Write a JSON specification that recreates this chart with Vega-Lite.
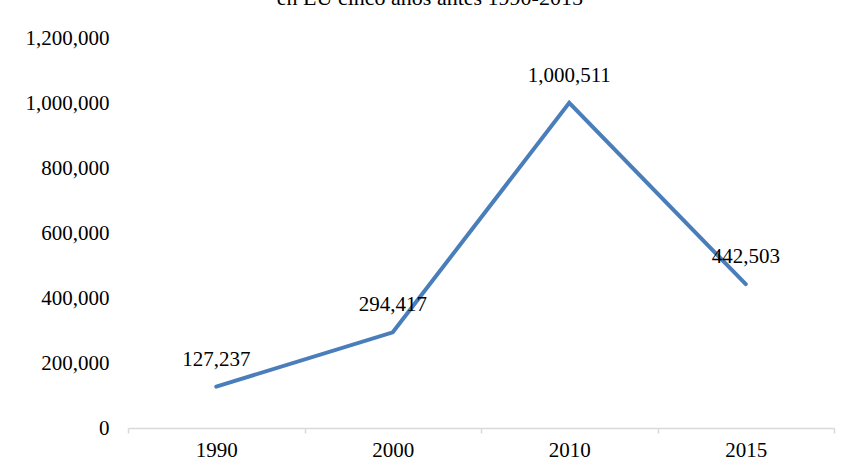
{
  "$schema": "https://vega.github.io/schema/vega-lite/v6.json",
  "width": 706,
  "height": 390,
  "autosize": {"type": "none"},
  "padding": {"left": 128, "top": 38, "right": 22, "bottom": 44},
  "background": "white",
  "title": {
    "text": "en EU cinco años antes 1990-2015",
    "font": "Liberation Serif",
    "fontSize": 22,
    "fontWeight": "normal",
    "color": "#000000",
    "anchor": "middle",
    "frame": "bounds",
    "baseline": "alphabetic",
    "offset": 0
  },
  "config": {
    "view": {"stroke": null},
    "axis": {"labelFont": "Liberation Serif", "labelFontSize": 21, "labelColor": "#000000", "grid": false}
  },
  "data": {
    "values": [
      {"year": "1990", "value": 127237},
      {"year": "2000", "value": 294417},
      {"year": "2010", "value": 1000511},
      {"year": "2015", "value": 442503}
    ]
  },
  "encoding": {
    "x": {
      "field": "year",
      "type": "ordinal",
      "scale": {"type": "band", "paddingInner": 0, "paddingOuter": 0},
      "axis": {
        "title": null,
        "labelAngle": 0,
        "domainColor": "#d9d9d9",
        "domainWidth": 1.5,
        "tickColor": "#d9d9d9",
        "tickWidth": 1.5,
        "tickSize": 5,
        "tickBand": "extent",
        "labelPadding": 6
      }
    },
    "y": {
      "field": "value",
      "type": "quantitative",
      "scale": {"domain": [0, 1200000]},
      "axis": {
        "title": null,
        "values": [0, 200000, 400000, 600000, 800000, 1000000, 1200000],
        "format": ",.0f",
        "domain": false,
        "ticks": false,
        "labelPadding": 19
      }
    }
  },
  "layer": [
    {
      "mark": {"type": "line", "color": "#4a7ebb", "strokeWidth": 4, "strokeCap": "round", "strokeJoin": "miter"}
    },
    {
      "mark": {"type": "text", "font": "Liberation Serif", "fontSize": 21, "color": "#000000", "baseline": "middle", "dy": -27},
      "encoding": {"text": {"field": "value", "type": "quantitative", "format": ",.0f"}}
    }
  ]
}
